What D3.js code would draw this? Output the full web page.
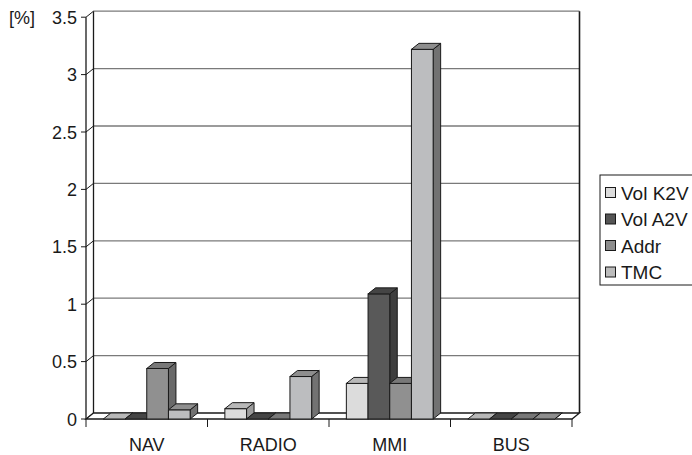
<!DOCTYPE html>
<html>
<head>
<meta charset="utf-8">
<script src="https://cdn.jsdelivr.net/npm/d3@7"></script>
<style>
  html, body { margin: 0; padding: 0; background: #fff; }
  svg { display: block; font-family: "Liberation Sans", Arial, sans-serif; }
</style>
</head>
<body>
<svg id="chart" width="692" height="455"></svg>
<script>
// Error rates per module, in percent
const categories = ["NAV", "RADIO", "MMI", "BUS"];
const seriesNames = ["Vol K2V", "Vol A2V", "Addr", "TMC"];
const volK2V = [0, 0.09, 0.31, 0];
const volA2V = [0, 0, 1.09, 0];
const addr   = [0.44, 0, 0.31, 0];
const tmc    = [0.08, 0.37, 3.22, 0];
const yTicks = [0, 0.5, 1, 1.5, 2, 2.5, 3, 3.5];
const yTickLabels = ["0", "0.5", "1", "1.5", "2", "2.5", "3", "3.5"];

const seriesValues = [volK2V, volA2V, addr, tmc];

// face shades: front, top, side
const shades = [
  { front: "#dcdcdc", top: "#b8b8b8", side: "#9c9c9c", key: "#dcdcdc" },
  { front: "#595959", top: "#454545", side: "#3e3e3e", key: "#555555" },
  { front: "#909090", top: "#787878", side: "#696969", key: "#8c8c8c" },
  { front: "#bcbdbf", top: "#8e8e8e", side: "#727272", key: "#bcbcbc" }
];

const svg = d3.select("#chart");

// front plane geometry and depth offset
const x0 = 86, x1 = 572;
const dx = 7.5, dy = -6;

const x = d3.scaleBand().domain(categories).range([x0, x1]).paddingInner(0).paddingOuter(0);
const y = d3.scaleLinear().domain([0, 3.5]).range([419, 17.2]);
const inner = d3.scaleBand().domain(seriesNames).range([0, x.bandwidth()]).paddingInner(0).paddingOuter(0.8);

const edge = "#1a1a1a";
const fontSize = 18;

// back wall gridlines
const grid = svg.append("g");
grid.selectAll("line.g")
  .data(yTicks.slice(1))
  .join("line")
  .attr("x1", x0 + dx).attr("x2", x1 + dx)
  .attr("y1", d => y(d) + dy).attr("y2", d => y(d) + dy)
  .attr("stroke", "#7a7a7a").attr("stroke-width", 1.3);

// side wall gridlines (front axis to back wall)
grid.selectAll("line.s")
  .data(yTicks)
  .join("line")
  .attr("x1", x0).attr("x2", x0 + dx)
  .attr("y1", d => y(d)).attr("y2", d => y(d) + dy)
  .attr("stroke", edge).attr("stroke-width", 1);

// back wall left and right edges
svg.append("line").attr("x1", x0 + dx).attr("x2", x0 + dx)
  .attr("y1", y(3.5) + dy).attr("y2", y(0) + dy).attr("stroke", edge).attr("stroke-width", 1.3);
svg.append("line").attr("x1", x1 + dx).attr("x2", x1 + dx)
  .attr("y1", y(3.5) + dy).attr("y2", y(0) + dy).attr("stroke", edge).attr("stroke-width", 1.6);

// floor outline
svg.append("path")
  .attr("d", `M${x0},${y(0)}L${x1},${y(0)}L${x1 + dx},${y(0) + dy}L${x0 + dx},${y(0) + dy}Z`)
  .attr("fill", "#fff").attr("stroke", edge).attr("stroke-width", 1.3);

// value axis (front)
svg.append("line").attr("x1", x0).attr("x2", x0)
  .attr("y1", y(3.5)).attr("y2", y(0)).attr("stroke", edge).attr("stroke-width", 1.3);
svg.selectAll("line.yt")
  .data(yTicks)
  .join("line")
  .attr("x1", x0 - 5).attr("x2", x0)
  .attr("y1", d => y(d)).attr("y2", d => y(d))
  .attr("stroke", edge).attr("stroke-width", 1);
svg.selectAll("text.yl")
  .data(yTicks)
  .join("text")
  .attr("x", x0 - 9)
  .attr("y", d => y(d) + 6.5)
  .attr("text-anchor", "end")
  .attr("font-size", fontSize)
  .attr("fill", "#1a1a1a")
  .text((d, i) => yTickLabels[i]);
svg.append("text").attr("x", 9).attr("y", y(3.5) + 6.5)
  .attr("font-size", fontSize).attr("fill", "#1a1a1a").text("[%]");

// category axis ticks and labels
const bounds = categories.map(c => x(c)).concat([x1]);
svg.selectAll("line.xt")
  .data(bounds)
  .join("line")
  .attr("x1", d => d).attr("x2", d => d)
  .attr("y1", y(0)).attr("y2", y(0) + 8)
  .attr("stroke", edge).attr("stroke-width", 1);
svg.selectAll("text.xl")
  .data(categories)
  .join("text")
  .attr("x", d => x(d) + x.bandwidth() / 2)
  .attr("y", 450.5)
  .attr("text-anchor", "middle")
  .attr("font-size", fontSize)
  .attr("fill", "#1a1a1a")
  .text(d => d);

// 3D columns, drawn left to right so nearer faces overlap correctly
const bars = [];
categories.forEach((c, ci) => {
  seriesNames.forEach((s, si) => {
    bars.push({ c, s, si, v: seriesValues[si][ci] });
  });
});

const barG = svg.append("g");
bars.forEach(b => {
  const bx = x(b.c) + inner(b.s);
  const bw = inner.bandwidth();
  const yt = y(b.v), yb = y(0);
  const g = barG.append("g");
  const sh = shades[b.si];
  // side face
  g.append("path")
    .attr("d", `M${bx + bw},${yt}L${bx + bw + dx},${yt + dy}L${bx + bw + dx},${yb + dy}L${bx + bw},${yb}Z`)
    .attr("fill", sh.side).attr("stroke", edge).attr("stroke-width", 1).attr("stroke-linejoin", "round");
  // front face
  g.append("rect")
    .attr("x", bx).attr("y", yt).attr("width", bw).attr("height", yb - yt)
    .attr("fill", sh.front).attr("stroke", edge).attr("stroke-width", 1);
  // top face
  g.append("path")
    .attr("d", `M${bx},${yt}L${bx + dx},${yt + dy}L${bx + bw + dx},${yt + dy}L${bx + bw},${yt}Z`)
    .attr("fill", sh.top).attr("stroke", edge).attr("stroke-width", 1).attr("stroke-linejoin", "round");
});

// legend
const lg = svg.append("g");
lg.append("rect").attr("x", 600).attr("y", 175).attr("width", 100).attr("height", 110)
  .attr("fill", "#fff").attr("stroke", edge).attr("stroke-width", 1);
const items = lg.selectAll("g.item")
  .data(seriesNames)
  .join("g")
  .attr("transform", (d, i) => `translate(605, ${192.5 + i * 26.5})`);
items.append("rect").attr("x", 0.5).attr("y", -5).attr("width", 10).attr("height", 10)
  .attr("fill", (d, i) => shades[i].key).attr("stroke", edge).attr("stroke-width", 1);
items.append("text").attr("x", 16).attr("y", 7)
  .attr("font-size", fontSize + 1).attr("fill", "#1a1a1a").text(d => d);
</script>
</body>
</html>
